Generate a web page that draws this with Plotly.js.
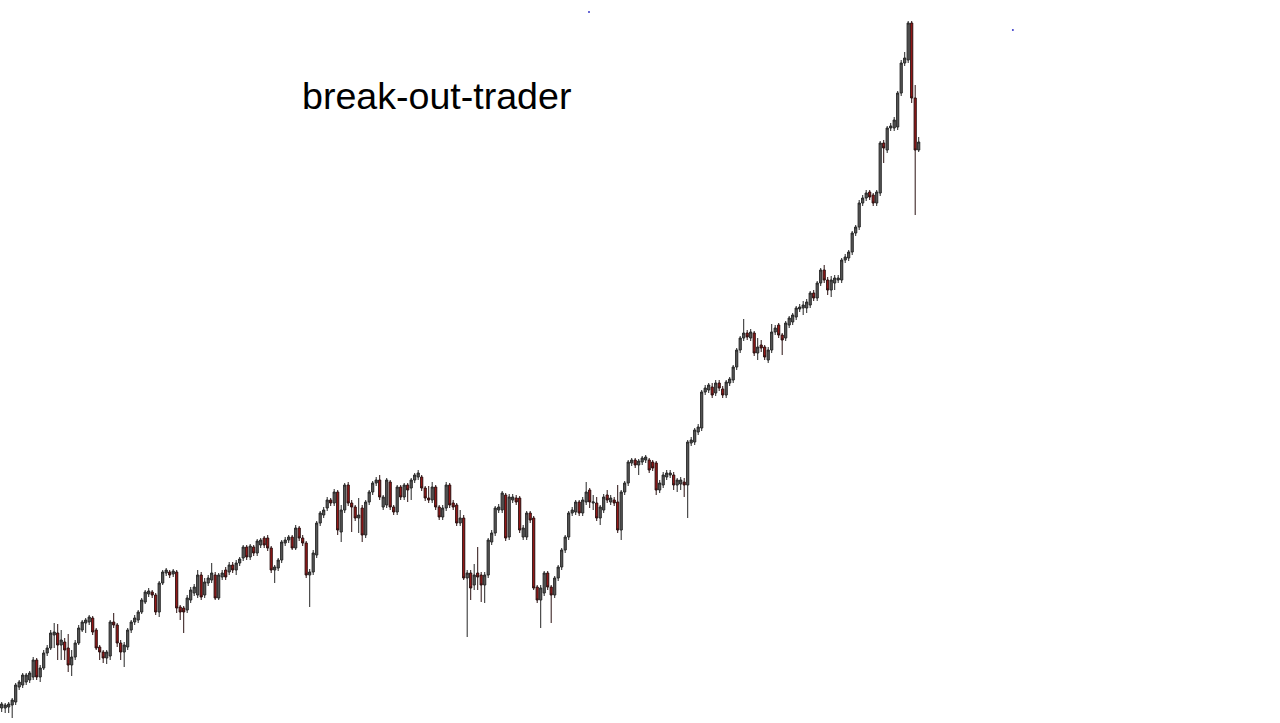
<!DOCTYPE html>
<html>
<head>
<meta charset="utf-8">
<script src="https://cdn.plot.ly/plotly-3.0.1.min.js"></script>
<style>
html,body{margin:0;padding:0;background:#fff;overflow:hidden;}
#chart{width:1280px;height:723px;}
</style>
</head>
<body>
<div id="chart"></div>
<script>
const chartTitle = 'break-out-trader';

const openPrices = [
292,292,293,295,298,313,315,318,320,323,
340,323,332,347,352,365,367,355,358,352,
335,343,357,370,377,378,382,370,353,348,
342,344,378,375,357,348,353,370,378,380,
388,398,406,408,405,388,417,427,428,426,
428,393,392,390,400,407,405,425,405,417,
420,425,402,423,430,428,435,430,437,442,
453,443,453,447,455,462,462,452,430,432,
440,457,460,463,452,472,462,457,425,428,
445,477,485,492,500,497,508,468,490,515,
497,493,482,492,465,498,508,517,520,493,
495,518,493,488,513,503,515,512,520,523,
523,512,502,500,513,493,483,492,515,497,
495,477,482,422,427,415,427,425,415,425,
458,467,490,490,505,463,500,502,502,463,
463,487,482,413,400,407,427,413,405,422,
433,450,463,487,488,498,487,498,510,497,
497,482,490,505,498,500,498,470,508,517,
537,540,535,538,540,540,538,537,510,515,
523,525,525,515,516,518,515,557,558,568,
572,608,610,613,607,617,611,605,617,620,
633,650,662,667,662,667,647,655,653,640,
650,668,675,665,662,675,678,683,691,692,
692,695,707,702,717,730,720,710,717,720,
720,740,742,748,767,773,797,802,808,805,
797,807,857,850,872,872,873,907,937,940,
977,902,850
];

const highPrices = [
298,297,298,302,317,320,327,327,329,343,
342,335,350,355,370,377,376,370,362,366,
350,360,375,380,382,385,384,372,355,350,
350,380,387,377,360,358,372,380,385,390,
402,410,412,410,407,419,430,432,430,431,
430,395,394,405,413,416,430,428,422,425,
437,428,427,430,433,438,438,440,443,455,
455,456,455,461,462,464,465,454,435,442,
460,463,465,465,475,474,465,459,431,450,
479,489,493,503,502,511,510,495,517,518,
500,495,502,495,500,510,519,523,525,505,
522,520,495,515,515,517,517,522,527,530,
525,514,514,518,515,495,495,518,517,500,
497,490,485,430,430,436,453,428,428,462,
470,494,496,509,507,506,506,505,504,475,
489,489,484,415,415,429,429,415,424,435,
452,465,489,493,500,500,503,518,512,505,
503,495,506,510,505,503,515,510,519,540,
542,542,541,544,545,542,540,539,520,528,
530,530,528,522,523,522,560,563,572,576,
610,615,617,617,620,620,614,620,623,635,
652,664,681,670,671,669,662,660,655,653,
676,675,677,667,679,684,687,694,696,699,
701,709,710,719,732,735,723,724,725,725,
742,746,750,769,775,800,805,810,810,807,
810,859,860,874,877,883,909,940,948,979,
979,915,863
];

const lowPrices = [
288,287,287,282,295,310,312,315,317,320,
320,318,330,344,350,352,340,340,340,328,
324,340,355,368,367,375,365,350,340,337,
336,340,372,353,340,333,350,367,375,377,
386,396,403,402,385,383,415,424,422,423,
387,380,367,387,397,404,402,400,402,414,
417,400,400,420,420,425,427,425,434,439,
440,440,444,444,452,452,449,427,417,429,
437,454,457,450,450,459,454,422,393,425,
442,474,482,489,494,494,465,458,487,494,
468,479,467,458,462,495,505,514,500,490,
492,490,485,485,500,500,498,500,517,520,
509,499,497,497,490,480,480,489,492,490,
474,474,420,363,400,410,410,398,397,422,
455,464,487,487,459,460,497,495,467,460,
460,477,410,397,372,404,410,377,402,419,
430,447,460,484,485,484,484,495,492,490,
479,475,487,497,495,494,467,460,505,514,
534,532,525,535,537,527,529,505,507,512,
520,522,510,508,510,503,482,554,555,565,
569,605,607,602,604,609,602,602,614,617,
630,647,659,660,659,644,640,648,640,637,
647,665,662,645,659,672,675,680,688,685,
687,692,699,699,714,717,705,703,710,717,
717,737,739,745,764,770,794,799,800,794,
794,804,837,847,869,869,870,904,934,937,
897,785,848
];

const closePrices = [
296,295,296,300,315,318,325,325,327,340,
323,332,347,352,367,368,355,360,350,335,
343,357,372,378,380,383,368,352,348,342,
348,378,375,357,348,355,370,378,382,388,
400,408,409,405,388,417,428,430,425,429,
392,388,388,402,410,413,425,403,418,422,
427,402,425,427,423,435,430,437,441,453,
443,454,447,459,460,455,452,430,433,440,
458,460,463,452,472,462,457,425,428,447,
477,487,490,500,497,508,470,490,515,497,
493,482,485,465,498,508,517,520,503,503,
520,493,488,513,503,515,510,520,525,527,
512,502,500,513,493,483,492,515,495,493,
477,482,422,427,412,425,423,415,425,460,
467,492,493,507,462,503,503,498,470,472,
487,480,412,400,412,427,413,405,422,433,
450,463,487,490,498,487,500,508,498,498,
482,493,503,500,502,497,470,508,517,538,
540,535,539,542,543,530,532,510,517,525,
527,527,515,520,520,515,558,560,570,573,
608,612,615,605,617,612,605,618,621,633,
650,662,667,663,668,647,653,652,643,650,
668,672,665,660,677,682,685,692,693,695,
698,707,702,717,730,720,710,720,722,722,
740,743,748,767,773,797,802,807,803,797,
808,857,852,872,874,880,907,937,942,977,
902,850,858
];

const barIndex = openPrices.map((_, i) => i);

// two stray blue dots present in the original
const dotX = [167.8, 288.9];
const dotY = [988, 970];

const candles = {
  type: 'candlestick',
  x: barIndex,
  open: openPrices,
  high: highPrices,
  low: lowPrices,
  close: closePrices,
  whiskerwidth: 0,
  increasing: { line: { color: '#262626', width: 1 }, fillcolor: '#5a5a5a' },
  decreasing: { line: { color: '#2a1010', width: 1 }, fillcolor: '#a01818' },
  hoverinfo: 'skip',
  showlegend: false
};

const dots = {
  type: 'scatter',
  mode: 'markers',
  x: dotX,
  y: dotY,
  marker: { size: 2, color: '#3838c8' },
  hoverinfo: 'skip',
  showlegend: false
};

const layout = {
  width: 1280,
  height: 723,
  margin: { l: 0, r: 0, t: 0, b: 0, pad: 0 },
  paper_bgcolor: '#ffffff',
  plot_bgcolor: '#ffffff',
  showlegend: false,
  boxgap: 0.12,
  xaxis: {
    visible: false,
    range: [-0.486, 365.23],
    rangeslider: { visible: false },
    fixedrange: true
  },
  yaxis: {
    visible: false,
    range: [277, 1000],
    fixedrange: true
  },
  annotations: [{
    text: chartTitle,
    xref: 'paper', yref: 'paper',
    x: 300 / 1280, y: 1 - 96 / 723,
    xanchor: 'left', yanchor: 'middle',
    showarrow: false,
    font: { family: 'Liberation Sans, Arial, sans-serif', size: 37.6, color: '#000000' }
  }]
};

Plotly.newPlot('chart', [candles, dots], layout, { staticPlot: true, displayModeBar: false });
</script>
</body>
</html>
